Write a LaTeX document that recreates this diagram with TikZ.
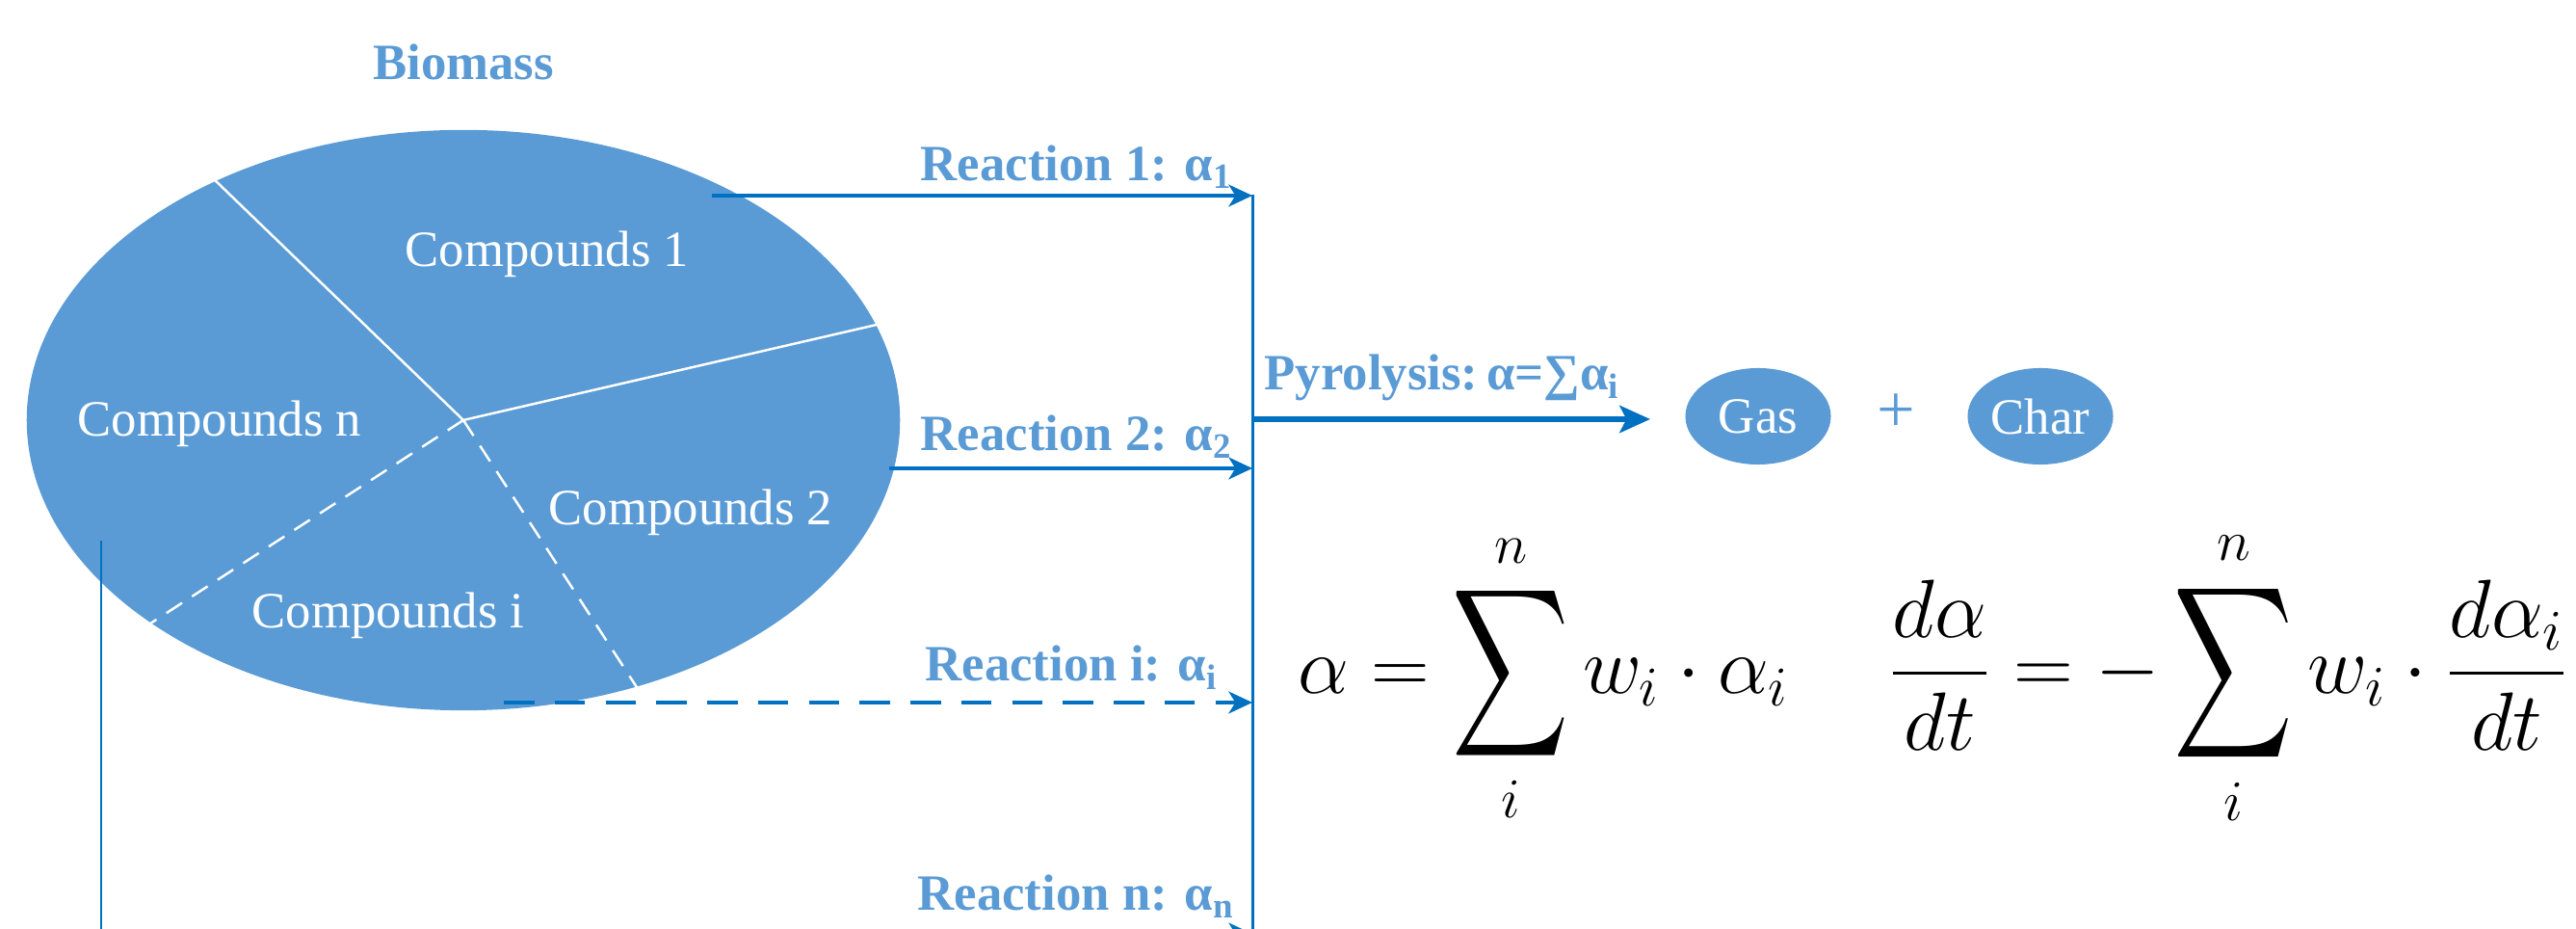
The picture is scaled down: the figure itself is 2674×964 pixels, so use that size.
\documentclass[tikz,border=0pt]{standalone}
\usepackage{fontspec}
\setmainfont{Liberation Serif}
\usepackage{amsmath}
\usetikzlibrary{arrows.meta, shapes.geometric}
\definecolor{bioblue}{HTML}{5B9BD5}
\definecolor{flowblue}{HTML}{0070C0}
\newcommand{\bigsum}{\mathop{\vcenter{\hbox{\scalebox{1}[1.45]{$\displaystyle\sum$}}}}\limits}

\tikzset{
  blob/.style={ellipse, fill=bioblue, inner sep=0pt},
  cmptext/.style={text=white, font=\fontsize{15}{18}\selectfont, anchor=base, inner sep=0pt},
  rlabel/.style={text=bioblue, font=\bfseries\fontsize{15}{18}\selectfont, anchor=base east, inner sep=0pt},
  rarrow/.style={draw=flowblue, line width=1.1pt, -{Stealth[length=7pt,width=6.5pt,inset=2pt]}},
  cutline/.style={draw=white, line width=0.7pt},
  eqtext/.style={anchor=base west, inner sep=0pt, font=\fontsize{24}{28}\selectfont},
}

\begin{document}
\begin{tikzpicture}[x=0.01cm, y=0.01cm]
  \useasboundingbox (0,0) rectangle (2674,964);
  \clip (0,0) rectangle (2674,964);
  % biomass and its compounds
  \node[text=bioblue, font=\bfseries\fontsize{15}{18}\selectfont, anchor=base, inner sep=0pt] (biomass) at (481,881) {Biomass};
  \node[blob, minimum width=9.06cm, minimum height=6.02cm] (bio) at (481,528) {};
  \draw[cutline] (bio.center) -- (bio.136);
  \draw[cutline] (bio.center) -- (bio.13);
  \draw[cutline, dash pattern=on 5.5pt off 3.5pt] (bio.center) -- (bio.213);
  \draw[cutline, dash pattern=on 5.5pt off 3.5pt] (bio.center) -- (bio.303);
  \node[cmptext] (cmp1) at (568,687) {Compounds 1};
  \node[cmptext] (cmpn) at (228,511) {Compounds n};
  \node[cmptext] (cmp2) at (717,419) {Compounds 2};
  \node[cmptext] (cmpi) at (403,312) {Compounds i};
  % reactions into the bus
  \coordinate (r1) at (739,761);  \coordinate (b1) at (1300,761);
  \coordinate (r2) at (923,478);  \coordinate (b2) at (1300,478);
  \coordinate (ri) at (523,235);  \coordinate (bi) at (1300,235);
  \coordinate (rn) at (105,403);  \coordinate (bn) at (1300,-5);
  \coordinate (bustop) at (1300,762); \coordinate (busend) at (1300,-20);
  \coordinate (bpy) at (1300,529); \coordinate (pyend) at (1713,529);
  \draw[flowblue, line width=0.85pt] (bustop) -- (busend);
  \draw[rarrow] (r1) -- (b1);
  \draw[rarrow] (r2) -- (b2);
  \draw[rarrow, dash pattern=on 9pt off 6pt] (ri) -- (bi);
  \draw[rarrow, line width=0.8pt] (rn) |- (bn);
  \node[rlabel] (lab1) at (1280,776) {Reaction 1: α\textsubscript{1}};
  \node[rlabel] (lab2) at (1280,496) {Reaction 2: α\textsubscript{2}};
  \node[rlabel] (labi) at (1265,257) {Reaction i: α\textsubscript{i}};
  \node[rlabel] (labn) at (1282,19) {Reaction n: α\textsubscript{n}};
  % pyrolysis products
  \draw[flowblue, line width=1.7pt, -{Stealth[length=9pt,width=8pt,inset=2pt]}] (bpy) -- (pyend);
  \node[rlabel, anchor=base west] (pylab) at (1312,559) {Pyrolysis:\,α=∑α\textsubscript{i}};
  \node[blob, minimum width=1.51cm, minimum height=1cm, text=white, font=\fontsize{15}{18}\selectfont] (gas) at (1825,532) {Gas};
  \node[text=bioblue, font=\fontsize{20}{24}\selectfont, inner sep=0pt] (plus) at (1968,535) {+};
  \node[blob, minimum width=1.51cm, minimum height=1cm, text=white, font=\fontsize{15}{18}\selectfont] (char) at (2118,532) {Char};
  % equations
  \node[eqtext] (eqsum) at (1347,244) {\scalebox{0.96}{$\displaystyle \alpha=\bigsum_{i}^{n} w_i\cdot\alpha_i$}};
  \node[eqtext] (eqrate) at (1960,244) {\scalebox{0.98}{$\displaystyle \frac{d\alpha}{dt}=-\bigsum_{i}^{n} w_i\cdot\frac{d\alpha_i}{dt}$}};
\end{tikzpicture}
\end{document}
